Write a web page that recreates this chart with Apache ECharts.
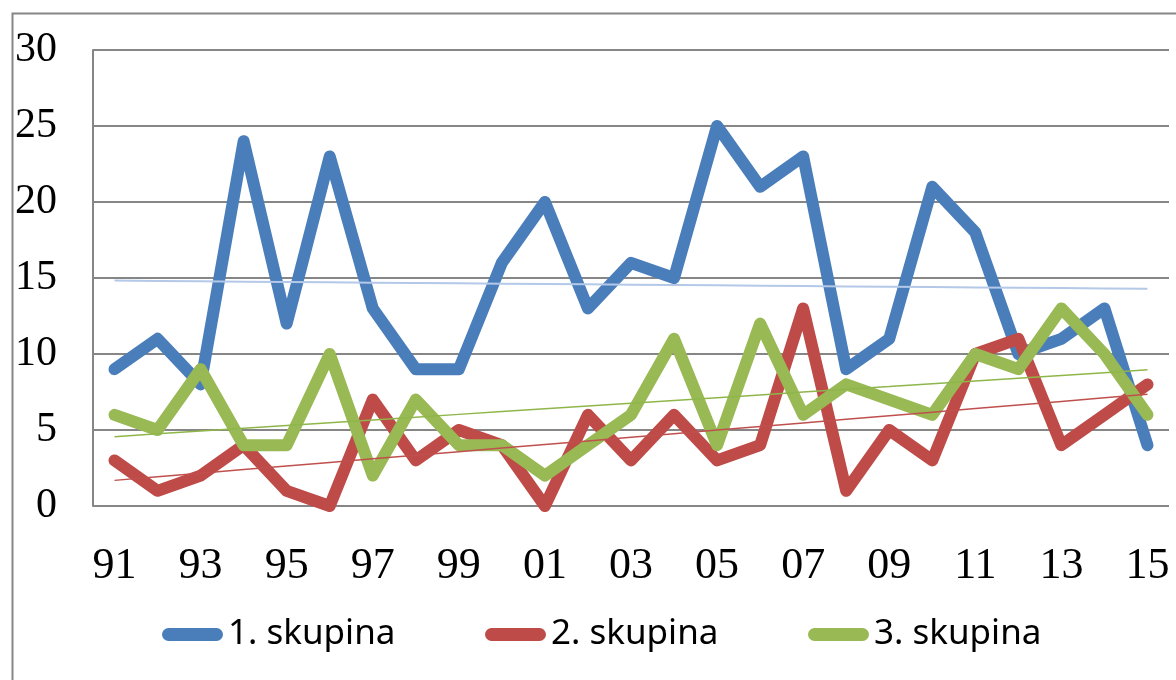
<!DOCTYPE html>
<html>
    <head>
        <meta charset="UTF-8">
        <title></title>
        <script src="https://cdn.jsdelivr.net/npm/echarts@6/dist/echarts.min.js"></script>
        <style>
            html, body { margin: 0; padding: 0; background: #fff; }
        </style>
    </head>
    <body>
        <div id="main" style="width: 1176px; height: 680px;"></div>
        <script>
            // roky 1991 - 2015
            var years = ['91', '92', '93', '94', '95', '96', '97', '98', '99', '00', '01', '02', '03',
                         '04', '05', '06', '07', '08', '09', '10', '11', '12', '13', '14', '15'];
            var skupina1 = [9, 11, 8, 24, 12, 23, 13, 9, 9, 16, 20, 13, 16, 15, 25, 21, 23, 9, 11, 21, 18, 10, 11, 13, 4];
            var skupina2 = [3, 1, 2, 4, 1, 0, 7, 3, 5, 4, 0, 6, 3, 6, 3, 4, 13, 1, 5, 3, 10, 11, 4, 6, 8];
            var skupina3 = [6, 5, 9, 4, 4, 10, 2, 7, 4, 4, 2, 4, 6, 11, 4, 12, 6, 8, 7, 6, 10, 9, 13, 10, 6];
            var names = ['1. skupina', '2. skupina', '3. skupina'];
            var colors = ['#4a7ebb', '#be4b48', '#98b954'];
            var trendColors = ['#b4c8e8', '#c0504d', '#8fb64a'];

            // lineární trend (metoda nejmenších čtverců)
            function trend(arr) {
                var n = arr.length, sx = 0, sy = 0, sxy = 0, sxx = 0;
                for (var i = 0; i < n; i++) {
                    sx += i; sy += arr[i]; sxy += i * arr[i]; sxx += i * i;
                }
                var b = (n * sxy - sx * sy) / (n * sxx - sx * sx);
                var a = (sy - b * sx) / n;
                return arr.map(function (v, i) { return +(a + b * i).toFixed(3); });
            }

            var data = [skupina1, skupina2, skupina3];
            var series = [];
            data.forEach(function (d, k) {
                series.push({
                    name: names[k],
                    type: 'line',
                    data: d,
                    symbol: 'none',
                    z: 2 + k,
                    lineStyle: { color: colors[k], width: 12, cap: 'round', join: 'round' },
                    itemStyle: { color: colors[k] }
                });
            });
            data.forEach(function (d, k) {
                series.push({
                    name: 'trend' + k,
                    type: 'line',
                    data: trend(d),
                    symbol: 'none',
                    z: 10,
                    silent: true,
                    lineStyle: { color: trendColors[k], width: k === 0 ? 2 : 1.5 }
                });
            });

            var legendText = { fontFamily: 'Noto Sans', fontSize: 35, color: '#000' };
            // ikona legendy - tlustá čára se zaoblenými konci
            var pillIcon = 'path://M6.5,0H54.5A6.5,6.5,0,0,1,54.5,13H6.5A6.5,6.5,0,0,1,6.5,0Z';
            function legendAt(i, left) {
                return {
                    data: [names[i]],
                    left: left,
                    top: 612,
                    icon: pillIcon,
                    itemWidth: 61,
                    itemHeight: 13,
                    itemGap: 0,
                    textStyle: legendText
                };
            }

            var chart = echarts.init(document.getElementById('main'));
            chart.setOption({
                animation: false,
                backgroundColor: '#fff',
                graphic: [{
                    type: 'rect',
                    left: 10,
                    top: 11,
                    shape: { width: 1200, height: 700 },
                    style: { fill: 'none', stroke: '#868686', lineWidth: 2 },
                    silent: true
                }],
                legend: [legendAt(0, 157), legendAt(1, 480), legendAt(2, 803)],
                grid: { left: 93, top: 50, right: 7, bottom: 174 },
                xAxis: {
                    type: 'category',
                    data: years,
                    boundaryGap: true,
                    axisLine: { show: false },
                    axisTick: { show: false },
                    axisLabel: {
                        interval: 1,
                        margin: 38,
                        fontFamily: 'Liberation Serif',
                        fontSize: 44,
                        color: '#000'
                    }
                },
                yAxis: {
                    type: 'value',
                    min: 0,
                    max: 30,
                    interval: 5,
                    axisLine: { show: true, lineStyle: { color: '#868686', width: 2 } },
                    axisTick: { show: false },
                    splitLine: { lineStyle: { color: '#868686', width: 2 } },
                    axisLabel: {
                        margin: 36,
                        fontFamily: 'Liberation Serif',
                        fontSize: 42,
                        color: '#000'
                    }
                },
                series: series
            });
        </script>
    </body>
</html>
